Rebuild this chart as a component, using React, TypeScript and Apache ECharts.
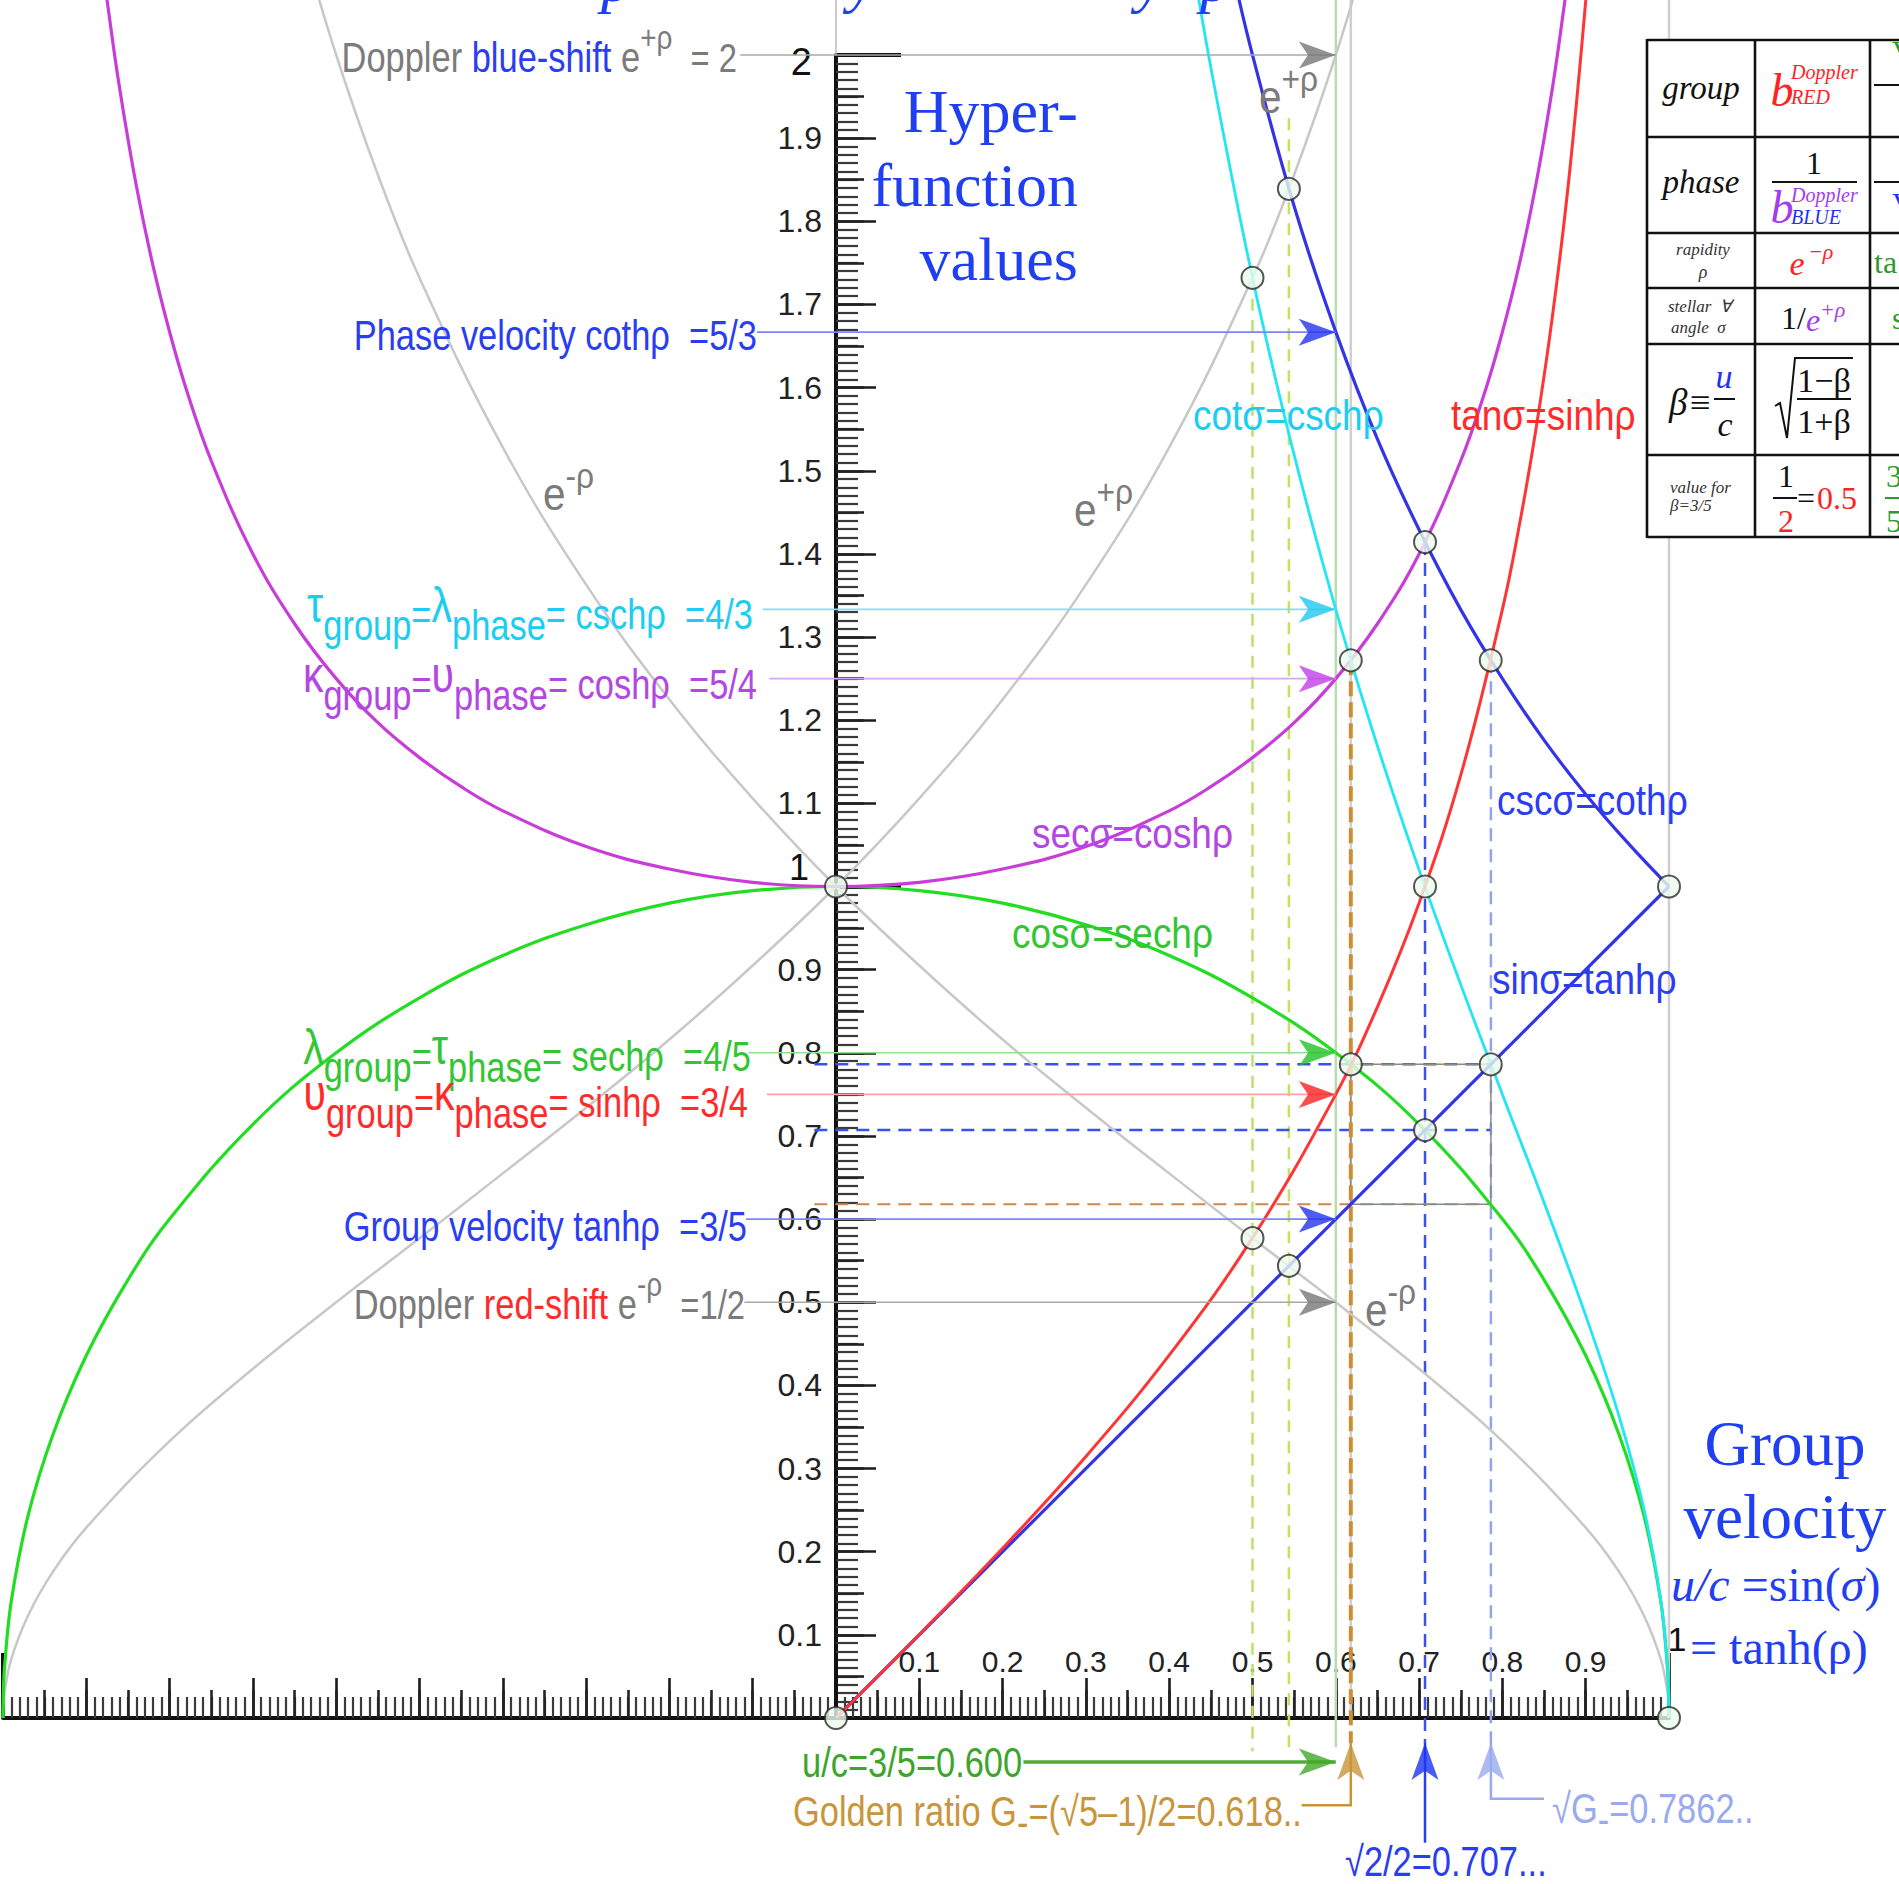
import React, { useEffect, useRef } from 'react';
import * as echarts from 'echarts';

const CANVAS_W = 1899;
const CANVAS_H = 1884;

const SANS = "'Liberation Sans', Arial, Helvetica, sans-serif";
const SERIF = "'Liberation Serif', 'Times New Roman', Times, serif";
// Helvetica-narrow look for the annotations
const CONDENSE = 0.82;
const CONDENSE_WIDE = 0.88;

// ---------------------------------------------------------------------------
// Hyperbolic functions of rapidity, sampled as [β, value] with β = u/c
// ---------------------------------------------------------------------------
const coshRho = [
  [-0.88, 2.105], [-0.874, 2.058], [-0.86, 1.96], [-0.84, 1.843], [-0.82, 1.747],
  [-0.8, 1.667], [-0.78, 1.598], [-0.75, 1.512], [-0.7, 1.4], [-0.65, 1.316],
  [-0.6, 1.25], [-0.55, 1.197], [-0.5, 1.155], [-0.45, 1.12], [-0.4, 1.091],
  [-0.3, 1.048], [-0.2, 1.021], [-0.1, 1.005], [0, 1], [0.1, 1.005], [0.2, 1.021],
  [0.3, 1.048], [0.4, 1.091], [0.45, 1.12], [0.5, 1.155], [0.55, 1.197], [0.6, 1.25],
  [0.65, 1.316], [0.7, 1.4], [0.75, 1.512], [0.78, 1.598], [0.8, 1.667], [0.82, 1.747],
  [0.84, 1.843], [0.86, 1.96], [0.874, 2.058], [0.88, 2.105],
];
const sechRho = [
  [-1, 0], [-0.9995, 0.032], [-0.998, 0.063], [-0.99, 0.141], [-0.97, 0.243],
  [-0.94, 0.341], [-0.9, 0.436], [-0.85, 0.527], [-0.8, 0.6], [-0.7, 0.714],
  [-0.6, 0.8], [-0.5, 0.866], [-0.4, 0.917], [-0.3, 0.954], [-0.2, 0.98],
  [-0.1, 0.995], [0, 1], [0.1, 0.995], [0.2, 0.98], [0.3, 0.954], [0.4, 0.917],
  [0.5, 0.866], [0.6, 0.8], [0.7, 0.714], [0.8, 0.6], [0.85, 0.527], [0.9, 0.436],
  [0.94, 0.341], [0.97, 0.243], [0.99, 0.141], [0.998, 0.063], [0.9995, 0.032], [1, 0],
];
const sinhRho = [
  [0, 0], [0.1, 0.1005], [0.2, 0.2041], [0.3, 0.3145], [0.4, 0.4364], [0.5, 0.5774],
  [0.6, 0.75], [0.65, 0.8553], [0.7, 0.9802], [0.75, 1.1339], [0.8, 1.3333],
  [0.82, 1.4326], [0.84, 1.5481], [0.86, 1.6853], [0.88, 1.8527], [0.9, 2.0647], [0.91, 2.1948],
];
const tanhRho = [[0, 0], [1, 1]];
const cothRho = [
  [0.47, 2.128], [0.5, 2], [0.55, 1.818], [0.6, 1.667], [0.65, 1.538], [0.7, 1.429],
  [0.75, 1.333], [0.8, 1.25], [0.85, 1.176], [0.9, 1.111], [0.95, 1.053], [1, 1],
];
const cschRho = [
  [0.42, 2.161], [0.45, 1.985], [0.5, 1.732], [0.55, 1.519], [0.6, 1.333], [0.65, 1.169],
  [0.7, 1.02], [0.75, 0.882], [0.8, 0.75], [0.85, 0.62], [0.9, 0.484], [0.94, 0.363],
  [0.97, 0.251], [0.99, 0.142], [0.998, 0.063], [0.9995, 0.032], [1, 0],
];
const expPlusRho = [
  [-1, 0], [-0.9995, 0.016], [-0.998, 0.032], [-0.99, 0.071], [-0.97, 0.123],
  [-0.94, 0.176], [-0.9, 0.229], [-0.8, 0.333], [-0.7, 0.42], [-0.6, 0.5],
  [-0.5, 0.577], [-0.4, 0.655], [-0.3, 0.734], [-0.2, 0.816], [-0.1, 0.905], [0, 1],
  [0.1, 1.106], [0.2, 1.225], [0.3, 1.363], [0.4, 1.528], [0.5, 1.732], [0.55, 1.856],
  [0.6, 2], [0.64, 2.134],
];
const expMinusRho = [
  [-0.64, 2.134], [-0.6, 2], [-0.55, 1.856], [-0.5, 1.732], [-0.4, 1.528], [-0.3, 1.363],
  [-0.2, 1.225], [-0.1, 1.106], [0, 1], [0.1, 0.905], [0.2, 0.816], [0.3, 0.734],
  [0.4, 0.655], [0.5, 0.577], [0.6, 0.5], [0.7, 0.42], [0.8, 0.333], [0.9, 0.229],
  [0.94, 0.176], [0.97, 0.123], [0.99, 0.071], [0.998, 0.032], [0.9995, 0.016], [1, 0],
];

// Function values at the group velocity β = 3/5:
// e^{+ρ}, cothρ, cschρ, coshρ, sechρ, sinhρ, tanhρ, e^{-ρ}
const betaGroup = 3 / 5;
const levelsAtGroup = [2, 5 / 3, 4 / 3, 5 / 4, 4 / 5, 3 / 4, 3 / 5, 1 / 2];

// Special velocities
const betaHalf = 0.5;
const betaTrib = 0.5437;
const goldenG = 0.618;
const rootHalf = 0.7071;
const rootG = 0.7862;

// Where the vertical guides start
const expPlusAtHalf = 1.732;
const coshAtGolden = 1.272;
const cothAtRootHalf = 1.4142;

// Intersection points
const markerPoints = [
  [0, 0], [0, 1], [1, 0], [1, 1],
  [0.5, 1.732], [0.5437, 1.839], [0.5, 0.577], [0.5437, 0.5437],
  [0.618, 1.272], [0.618, 0.786], [0.786, 1.272], [0.786, 0.786],
  [0.7071, 1.4142], [0.7071, 1], [0.7071, 0.7071],
];

const xTickLabels = ['0.1', '0.2', '0.3', '0.4', '0.5', '0.6', '0.7', '0.8', '0.9', '1'];
const yTickLabels = [
  '', '0.1', '0.2', '0.3', '0.4', '0.5', '0.6', '0.7', '0.8', '0.9', '1',
  '1.1', '1.2', '1.3', '1.4', '1.5', '1.6', '1.7', '1.8', '1.9', '2',
];

// ---------------------------------------------------------------------------
// Styling
// ---------------------------------------------------------------------------
const INK = {
  g: '#7b7b7b', b: '#2a3df2', c: '#1ccdf2', m: '#b347e4', n: '#33c633',
  r: '#ff2b2b', k: '#3da52a', o: '#c9953b', l: '#9aaaef',
};

const levelArrows = [
  { shaft: '#a8a8a8', head: '#777777', from: -0.115 },
  { shaft: '#7d86f4', head: '#2233ee', from: -0.095 },
  { shaft: '#86def3', head: '#1fc8ef', from: -0.088 },
  { shaft: '#dba4ee', head: '#c040e8', from: -0.08 },
  { shaft: '#95de95', head: '#22c222', from: -0.105 },
  { shaft: '#ffa2a2', head: '#ff2020', from: -0.083 },
  { shaft: '#8088f2', head: '#2233ee', from: -0.108 },
  { shaft: '#a8a8a8', head: '#777777', from: -0.11 },
];

const HEAD_RIGHT = 'path://M0,0L40,14L0,28L10,14Z';
const HEAD_UP = 'path://M0,40L14,0L28,40L14,30Z';

// rich-text tokens: every token sits in a common 64px line, lifted by `lift`
const LINE_BOX = 64;
function tok(fill: string, fontSize: number, lift: number, fontFamily = SANS) {
  return {
    fill, fontSize, fontFamily, height: fontSize, lineHeight: LINE_BOX,
    padding: [0, 0, lift, 0], verticalAlign: 'bottom',
  };
}
const richSet: any = {};
Object.keys(INK).forEach((k) => {
  const col = (INK as any)[k];
  richSet[k + 'B'] = tok(col, 42, 11);   // base text
  richSet[k + 'S'] = tok(col, 40, 11);   // "= 2", "=1/2"
  richSet[k + 'U'] = tok(col, 42, 0);    // subscripts "group", "phase"
  richSet[k + 'P'] = tok(col, 34, 34);   // superscripts
  richSet[k + 'G'] = tok(col, 50, 16);   // Greek letters
  richSet[k + 'E'] = tok(col, 46, 10);   // "e" of e^{±ρ}
  richSet[k + 'Q'] = tok(col, 36, 34);   // ±ρ exponent
});
const rt = (parts: string[][]) => parts.map(([t, s]) => `{${s}|${t}}`).join('');

function label(x: number, y: number, parts: string[][], align = 'left', scaleX = CONDENSE) {
  return {
    type: 'text', x, y, scaleX, z: 50, silent: true,
    style: { text: rt(parts), rich: richSet, align, verticalAlign: 'middle', fontFamily: SANS, fontSize: 42 },
  };
}
function serifText(x: number, y: number, text: string, fill: string, fontSize: number, italic = false, align = 'center', z = 50) {
  return {
    type: 'text', x, y, z, silent: true,
    style: { text, fill, fontFamily: SERIF, fontSize, fontStyle: italic ? 'italic' : 'normal', align, verticalAlign: 'middle' },
  };
}
function rule(x1: number, y1: number, x2: number, y2: number, stroke = '#111', lineWidth = 2, z = 102) {
  return { type: 'line', z, silent: true, shape: { x1, y1, x2, y2 }, style: { stroke, lineWidth } };
}

// ---------------------------------------------------------------------------
// Text annotations
// ---------------------------------------------------------------------------
function annotations() {
  const blueSerif = '#1f3ff0';
  const W = CONDENSE_WIDE;
  const els: any[] = [
    // left-hand level labels
    label(737, 57, [['Doppler ', 'gB'], ['blue-shift', 'bB'], [' e', 'gB'], ['+ρ', 'gP'], ['  = 2', 'gS']], 'right'),
    label(757, 335, [['Phase velocity cothρ  =5/3', 'bB']], 'right'),
    label(753, 614, [['τ', 'cG'], ['group', 'cU'], ['=', 'cB'], ['λ', 'cG'], ['phase', 'cU'], ['= cschρ  =4/3', 'cB']], 'right'),
    label(757, 684, [['κ', 'mG'], ['group', 'mU'], ['=', 'mB'], ['υ', 'mG'], ['phase', 'mU'], ['= coshρ  =5/4', 'mB']], 'right'),
    label(751, 1056, [['λ', 'nG'], ['group', 'nU'], ['=', 'nB'], ['τ', 'nG'], ['phase', 'nU'], ['= sechρ  =4/5', 'nB']], 'right'),
    label(748, 1102, [['υ', 'rG'], ['group', 'rU'], ['=', 'rB'], ['κ', 'rG'], ['phase', 'rU'], ['= sinhρ  =3/4', 'rB']], 'right'),
    label(747, 1226, [['Group velocity tanhρ  =3/5', 'bB']], 'right'),
    label(745, 1304, [['Doppler ', 'gB'], ['red-shift', 'rB'], [' e', 'gB'], ['-ρ', 'gP'], ['  =1/2', 'gS']], 'right'),

    // curve names
    label(1193, 415, [['cotσ=cschρ', 'cB']], 'left', W),
    label(1451, 415, [['tanσ=sinhρ', 'rB']], 'left', W),
    label(1032, 833, [['secσ=coshρ', 'mB']], 'left', W),
    label(1012, 933, [['cosσ=sechρ', 'nB']], 'left', W),
    label(1497, 800, [['cscσ=cothρ', 'bB']], 'left', W),
    label(1492, 979, [['sinσ=tanhρ', 'bB']], 'left', W),
    label(543, 495, [['e', 'gE'], ['-ρ', 'gQ']], 'left', W),
    label(1074, 511, [['e', 'gE'], ['+ρ', 'gQ']], 'left', W),
    label(1259, 98, [['e', 'gE'], ['+ρ', 'gQ']], 'left', W),
    label(1365, 1311, [['e', 'gE'], ['-ρ', 'gQ']], 'left', W),

    // labels under the β axis
    label(802, 1762, [['u/c=3/5=0.600', 'kB']]),
    label(793, 1811, [['Golden ratio G', 'oB'], ['-', 'oU'], ['=(√5–1)/2=0.618..', 'oB']]),
    label(1345, 1861, [['√2/2=0.707...', 'bB']]),
    label(1552, 1808, [['√G', 'lB'], ['-', 'lU'], ['=0.7862..', 'lB']]),

    // headings
    serifText(1078, 111, 'Hyper-', blueSerif, 62, false, 'right'),
    serifText(1078, 185, 'function', blueSerif, 62, false, 'right'),
    serifText(1078, 259, 'values', blueSerif, 62, false, 'right'),
    serifText(601, -20, 'p', blueSerif, 62, true, 'left'),
    serifText(848, -20, 'y', blueSerif, 62, true, 'left'),
    serifText(1136, -20, 'y', blueSerif, 62, true, 'left'),
    serifText(1200, -20, 'p', blueSerif, 62, true, 'left'),
    serifText(1785, 1444, 'Group', blueSerif, 63),
    serifText(1785, 1517, 'velocity', blueSerif, 63),
    {
      type: 'text', x: 1671, y: 1584, z: 50, silent: true,
      style: {
        text: '{i|u/c}{r| =sin(}{i|σ}{r|)}', align: 'left', verticalAlign: 'middle',
        rich: {
          i: { fill: blueSerif, fontFamily: SERIF, fontSize: 48, fontStyle: 'italic' },
          r: { fill: blueSerif, fontFamily: SERIF, fontSize: 48 },
        },
      },
    },
    serifText(1690, 1647, '= tanh(ρ)', blueSerif, 48, false, 'left'),
  ];
  return els.concat(tableElements());
}

function tableElements() {
  const TX = [1647, 1755, 1870];
  const TY = [40, 137, 233, 288, 344, 455, 537];
  const red = '#ff2222', purple = '#a23cf0', blue = '#2233ee', green = '#2e9a2e', ink = '#111', soft = '#333';
  const T = (x: number, y: number, s: string, fill = ink, size = 32, italic = false, align = 'center') =>
    serifText(x, y, s, fill, size, italic, align, 103);
  const els: any[] = [
    { type: 'rect', z: 100, silent: true, shape: { x: TX[0], y: TY[0], width: CANVAS_W - TX[0] + 10, height: TY[6] - TY[0] }, style: { fill: '#ffffff' } },
  ];
  TX.forEach((x) => els.push(rule(x, TY[0] - 1, x, TY[6] + 1, '#111', 2.6)));
  TY.forEach((y) => els.push(rule(TX[0], y, CANVAS_W + 5, y, '#111', 2.6)));

  els.push(
    T(1701, 88, 'group', ink, 33, true),
    T(1782, 90, 'b', red, 46, true),
    T(1791, 72, 'Doppler', red, 20, true, 'left'),
    T(1791, 97, 'RED', red, 20, true, 'left'),
    T(1892, 50, 'V', green, 30, false, 'left'),
    rule(1874, 85, 1905, 85),

    T(1701, 182, 'phase', ink, 33, true),
    T(1814, 163, '1', ink, 32),
    rule(1772, 182, 1857, 182),
    T(1782, 207, 'b', purple, 46, true),
    T(1791, 195, 'Doppler', purple, 20, true, 'left'),
    T(1791, 217, 'BLUE', blue, 20, true, 'left'),
    rule(1874, 182, 1905, 182),
    T(1892, 202, 'V', blue, 30, false, 'left'),

    T(1703, 249, 'rapidity', soft, 17, true),
    T(1703, 272, 'ρ', soft, 18, true),
    T(1797, 263, 'e', red, 34, true),
    T(1808, 251, '−ρ', red, 22, true, 'left'),
    T(1874, 262, 'ta', green, 32, false, 'left'),

    T(1668, 306, 'stellar  ∀', soft, 17, true, 'left'),
    T(1671, 327, 'angle  σ', soft, 17, true, 'left'),
    T(1781, 318, '1/', ink, 32, false, 'left'),
    T(1806, 320, 'e', purple, 32, true, 'left'),
    T(1820, 309, '+ρ', purple, 22, true, 'left'),
    T(1892, 318, 's', green, 32, false, 'left'),

    T(1669, 402, 'β≡', ink, 37, true, 'left'),
    T(1724, 376, 'u', blue, 34, true),
    rule(1714, 399, 1735, 399),
    T(1725, 424, 'c', ink, 34, true),
    { type: 'polyline', z: 103, silent: true, shape: { points: [[1775, 406], [1780, 403], [1787, 438], [1795, 358], [1853, 358]] }, style: { stroke: ink, lineWidth: 2, fill: null } },
    T(1824, 380, '1−β', ink, 34, false),
    rule(1797, 399, 1851, 399),
    T(1824, 421, '1+β', ink, 34, false),

    T(1670, 487, 'value for', soft, 17, true, 'left'),
    T(1670, 505, 'β=3/5', soft, 17, true, 'left'),
    T(1786, 476, '1', ink, 32),
    rule(1773, 498, 1797, 498),
    T(1786, 521, '2', red, 32),
    T(1797, 498, '=', ink, 32, false, 'left'),
    T(1817, 498, '0.5', red, 32, false, 'left'),
    T(1886, 476, '3', green, 32, false, 'left'),
    rule(1885, 498, 1905, 498, green),
    T(1886, 521, '5', green, 32, false, 'left'),
  );
  return els;
}

// ---------------------------------------------------------------------------
// Chart option
// ---------------------------------------------------------------------------
function buildOption() {
  const seg = (coords: number[][], color: string, width: number, type: any = 'solid') =>
    ({ coords, lineStyle: { color, width, type, opacity: 1 } });

  const TOP = 2.066;
  const dashBlue = [13, 8];
  const guides = [
    seg([[0, 2], [0, TOP]], '#b8b8b8', 1.5),
    seg([[goldenG, TOP], [goldenG, 0]], '#cfcfcf', 2.5),
    seg([[1, TOP], [1, 0]], '#cfcfcf', 2.5),
    seg([[betaGroup, TOP], [betaGroup, -0.035]], '#b8dcae', 2.5),
    seg([[betaHalf, expPlusAtHalf], [betaHalf, -0.04]], '#b9e36c', 2.5, [12, 9]),
    seg([[betaTrib, 1.924], [betaTrib, -0.04]], '#c2e35a', 2.5, [12, 9]),
    seg([[rootHalf, cothAtRootHalf], [rootHalf, -0.03]], '#3a50f0', 2.5, dashBlue),
    seg([[rootG, coshAtGolden], [rootG, -0.03]], '#93a3ef', 2.5, dashBlue),
    seg([[-0.026, rootG], [rootG, rootG]], '#3a50f0', 2.5, dashBlue),
    seg([[-0.026, rootHalf], [rootG, rootHalf]], '#3a50f0', 2.5, dashBlue),
    seg([[-0.026, goldenG], [rootG, goldenG]], '#d0884a', 2, dashBlue),
    seg([[goldenG, rootG], [rootG, rootG], [rootG, goldenG], [goldenG, goldenG], [goldenG, rootG]], '#8a8a8a', 1.5),
    seg([[goldenG, coshAtGolden], [goldenG, -0.03]], '#c98f35', 4, [15, 6]),
  ];

  const shafts = levelsAtGroup.map((lv, i) => seg([[levelArrows[i].from, lv], [betaGroup, lv]], levelArrows[i].shaft, 1.6));
  shafts.push(
    seg([[0.225, -0.053], [betaGroup, -0.053]], '#52ab35', 3.5),
    seg([[0.559, -0.105], [goldenG, -0.105], [goldenG, -0.03]], INK.o, 2.5),
    seg([[rootHalf, -0.15], [rootHalf, -0.03]], INK.b, 2.5),
    seg([[0.85, -0.097], [rootG, -0.097], [rootG, -0.03]], INK.l, 2.5),
  );

  const headRight = (x: number, y: number, color: string) =>
    ({ value: [x, y], symbol: HEAD_RIGHT, symbolSize: [37, 27], symbolOffset: [-18.5, 0], itemStyle: { color } });
  const headUp = (x: number, y: number, color: string) =>
    ({ value: [x, y], symbol: HEAD_UP, symbolSize: [27, 37], symbolOffset: [0, 18.5], itemStyle: { color } });
  const heads = levelsAtGroup.map((lv, i) => headRight(betaGroup, lv, levelArrows[i].head));
  heads.push(
    headRight(betaGroup, -0.053, '#44a828'),
    headUp(goldenG, -0.03, INK.o),
    headUp(rootHalf, -0.03, '#1a35f0'),
    headUp(rootG, -0.03, INK.l),
  );

  // data live on grid 0: x axis 0, y axis 3
  const onData = { xAxisIndex: 0, yAxisIndex: 3 };
  const curve = (data: number[][], color: string, width: number, z = 3) => ({
    type: 'line', ...onData, data, smooth: 0.4, showSymbol: false, symbol: 'none',
    clip: false, silent: true, z, lineStyle: { color, width },
  });

  // grid 0 spans β ∈ [-1, 1]; grid 1 spans β ∈ [0, 1] so its left edge is the β = 0 axis
  const xBase = { type: 'value', min: -1, max: 1, gridIndex: 0, position: 'bottom', splitLine: { show: false } };
  const yBase = { type: 'value', min: 0, max: 2, gridIndex: 1, position: 'left', splitLine: { show: false } };
  const noLine = { show: false, onZero: false };

  return {
    animation: false,
    backgroundColor: '#ffffff',
    grid: [
      { left: 3, top: 55, width: 1666, height: 1663, containLabel: false, outerBoundsMode: 'none' },
      { left: 836, top: 55, width: 833, height: 1663, containLabel: false, outerBoundsMode: 'none' },
    ],
    xAxis: [
      {
        ...xBase, interval: 0.1,
        axisLine: { show: true, onZero: false, lineStyle: { color: '#111', width: 4 } },
        axisTick: { show: true, inside: true, length: 40, lineStyle: { color: '#1a1a1a', width: 2.6 } },
        minorTick: { show: true, splitNumber: 10, length: 21, lineStyle: { color: '#3a3a3a', width: 2.2 } },
        axisLabel: {
          inside: true, margin: 42, fontFamily: SANS, fontSize: 30, color: '#222',
          formatter: (v: number) => {
            const i = Math.round(v * 10);
            if (i <= 0) return '';
            return i === 10 ? `{one|${xTickLabels[i - 1]}}` : xTickLabels[i - 1];
          },
          rich: { one: { fontSize: 34, color: '#111', fontFamily: SANS, padding: [0, 0, 20, 16] } },
        },
      },
      {
        ...xBase, interval: 0.05, axisLine: noLine,
        axisTick: { show: true, inside: true, length: 28, lineStyle: { color: '#222', width: 2.6 } },
        axisLabel: { show: false },
      },
      {
        ...xBase, interval: 1, axisLine: noLine,
        axisTick: { show: true, inside: true, length: 65, lineStyle: { color: '#111', width: 4 } },
        axisLabel: { show: false },
      },
      { type: 'value', gridIndex: 1, min: 0, max: 1, show: false },
    ],
    yAxis: [
      {
        ...yBase, interval: 0.1,
        axisLine: { show: true, onZero: false, lineStyle: { color: '#111', width: 4 } },
        axisTick: { show: true, inside: true, length: 40, lineStyle: { color: '#1a1a1a', width: 2.6 } },
        minorTick: { show: true, splitNumber: 10, length: 22, lineStyle: { color: '#3a3a3a', width: 2.2 } },
        axisLabel: {
          margin: 14, fontFamily: SANS, fontSize: 32, color: '#222',
          formatter: (v: number) => {
            const i = Math.round(v * 10);
            const s = yTickLabels[i] || '';
            if (i === 20) return `{two|${s}}`;
            if (i === 10) return `{one|${s}}`;
            return s;
          },
          rich: {
            two: { fontSize: 38, color: '#111', fontFamily: SANS, padding: [14, 10, 0, 0] },
            one: { fontSize: 36, color: '#111', fontFamily: SANS, padding: [0, 13, 38, 0] },
          },
        },
      },
      {
        ...yBase, interval: 0.05, axisLine: noLine,
        axisTick: { show: true, inside: true, length: 28, lineStyle: { color: '#222', width: 2.6 } },
        axisLabel: { show: false },
      },
      {
        ...yBase, interval: 1, axisLine: noLine,
        axisTick: { show: true, inside: true, length: 65, lineStyle: { color: '#111', width: 4 } },
        axisLabel: { show: false },
      },
      { type: 'value', gridIndex: 0, min: 0, max: 2, show: false },
    ],
    series: [
      { type: 'lines', coordinateSystem: 'cartesian2d', ...onData, polyline: true, clip: false, silent: true, z: 1, data: guides },
      curve(expPlusRho, '#c8c8c8', 2.5, 2),
      curve(expMinusRho, '#c8c8c8', 2.5, 2),
      curve(sechRho, '#22dd22', 3.2),
      curve(coshRho, '#c83cd8', 3.2),
      curve(cschRho, '#22e6f2', 2.8),
      curve(cothRho, '#3434e6', 3.2),
      curve(tanhRho, '#3434e6', 3.2),
      curve(sinhRho, '#ff3434', 3),
      { type: 'lines', coordinateSystem: 'cartesian2d', ...onData, polyline: true, clip: false, silent: true, z: 4, data: shafts },
      { type: 'scatter', ...onData, clip: false, silent: true, z: 5, data: heads },
      {
        type: 'scatter', ...onData, clip: false, silent: true, z: 6, data: markerPoints,
        symbol: 'circle', symbolSize: 22,
        itemStyle: { color: '#eefbee', borderColor: '#2a2a2a', borderWidth: 2 },
      },
    ],
    graphic: { elements: annotations() },
  };
}

export default function App() {
  const ref = useRef<HTMLDivElement>(null);
  useEffect(() => {
    const chart = echarts.init(ref.current as HTMLDivElement, null, { renderer: 'svg' });
    chart.setOption(buildOption() as any);
    return () => chart.dispose();
  }, []);
  return (
    <div
      ref={ref}
      style={{ position: 'absolute', left: 0, top: 0, width: CANVAS_W, height: CANVAS_H, background: '#ffffff' }}
    />
  );
}
